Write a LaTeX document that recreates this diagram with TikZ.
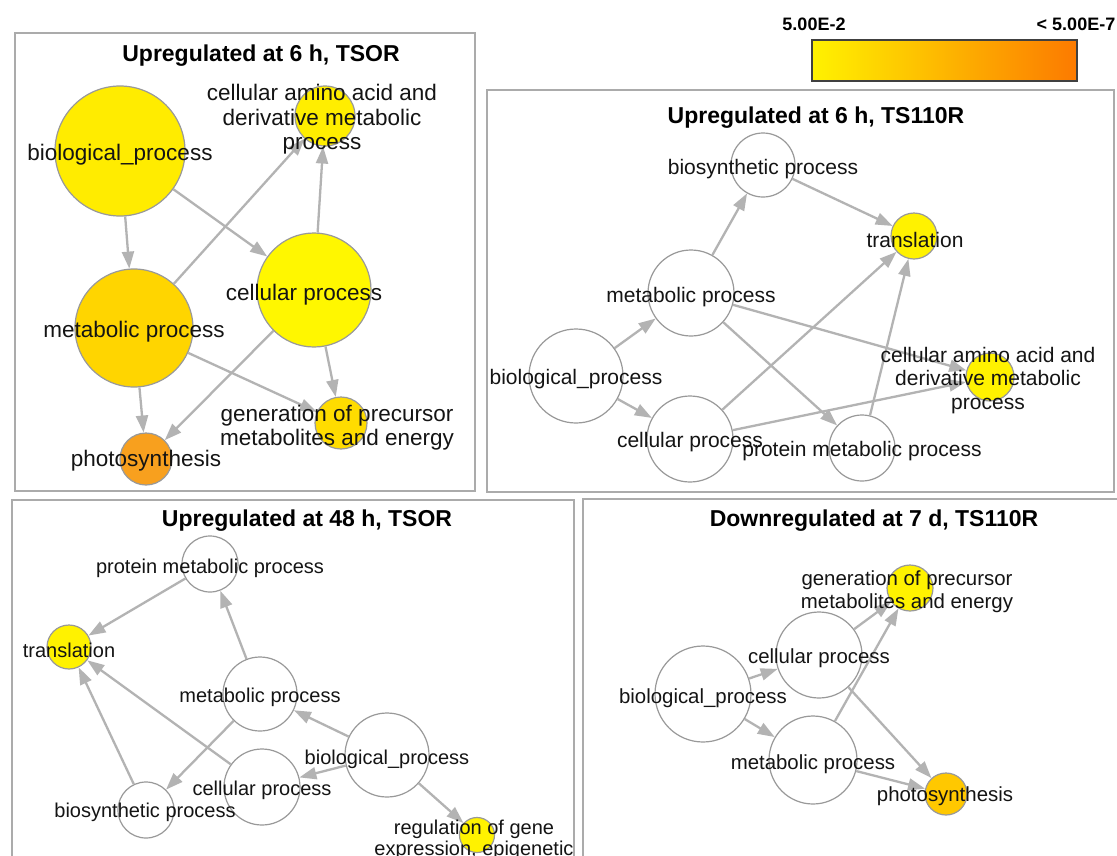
\documentclass[tikz,border=0pt]{standalone}
\usepackage{fontspec}
\setmainfont{Liberation Sans}
\usetikzlibrary{arrows.meta}
\definecolor{edgegray}{HTML}{B3B3B3}
\definecolor{nodeborder}{HTML}{999999}
\definecolor{boxgray}{HTML}{ABABAB}
\definecolor{yA}{HTML}{FFF200}
\definecolor{yBio}{HTML}{FFEC00}
\definecolor{yCP}{HTML}{FFF700}
\definecolor{yCAA}{HTML}{FFEE00}
\definecolor{gMet}{HTML}{FFD500}
\definecolor{gGen}{HTML}{FFDC00}
\definecolor{oPhoto}{HTML}{F8A01E}
\definecolor{gPhoto}{HTML}{FFC800}
\definecolor{legL}{HTML}{FFF200}
\definecolor{legR}{HTML}{FC7A00}
\tikzset{
  gonode/.style={circle, draw=nodeborder, line width=1.2pt, fill=white, inner sep=0pt},
  conn/.style={draw=edgegray, line width=2.3pt, -{Triangle[length=17pt,width=12pt]}},
  lab/.style={inner sep=0pt, align=center, text=black!92, yshift=-2.5pt},
  labA/.style={lab, font=\fontsize{22.5}{24.5}\selectfont},
  labB/.style={lab, font=\fontsize{21}{23.5}\selectfont},
  labC/.style={lab, font=\fontsize{20}{21}\selectfont},
  labD/.style={lab, font=\fontsize{20.4}{23}\selectfont},
  panel/.style={draw=boxgray, line width=1.8pt},
  ttl/.style={inner sep=0pt, yshift=-3pt, font=\bfseries\fontsize{23}{27}\selectfont},
  legtxt/.style={inner sep=0pt, yshift=-1.5pt, font=\bfseries\fontsize{18}{20}\selectfont},
}
\begin{document}
\begin{tikzpicture}[x=1pt,y=-1pt]
\useasboundingbox[fill=white] (0,0) rectangle (1117,855);

% legend
\node[legtxt] (legmin) at (814,23) {5.00E-2};
\node[legtxt] (legmax) at (1076,23) {< 5.00E-7};
\node[draw=black!75, line width=1.3pt, minimum width=265pt, minimum height=41pt, inner sep=0pt,
      left color=legL, right color=legR] (legbar) at (944.5,60.5) {};

% ---------- panel 1 ----------
\draw[panel] (15,33) rectangle (475,491);
\node[ttl] (t1) at (261,53) {Upregulated at 6 h, TSOR};
\node[gonode, minimum size=130pt, fill=yBio] (p1bio) at (120,151) {};
\node[gonode, minimum size=60pt, fill=yCAA] (p1caa) at (325,116) {};
\node[gonode, minimum size=114pt, fill=yCP] (p1cp) at (314,290) {};
\node[gonode, minimum size=118pt, fill=gMet] (p1met) at (134,328) {};
\node[gonode, minimum size=52pt, fill=gGen] (p1gen) at (341,423) {};
\node[gonode, minimum size=52pt, fill=oPhoto] (p1ph) at (146,459) {};
\draw[conn] (p1bio) -- (p1met);
\draw[conn] (p1bio) -- (p1cp);
\draw[conn] (p1met) -- (p1caa);
\draw[conn] (p1cp) -- (p1caa);
\draw[conn] (p1met) -- (p1gen);
\draw[conn] (p1cp) -- (p1gen);
\draw[conn] (p1met) -- (p1ph);
\draw[conn] (p1cp) -- (p1ph);
\node[labA] (l1bio) at (120,152) {biological\_process};
\node[labA] (l1caa) at (322,117) {cellular amino acid and\\derivative metabolic\\process};
\node[labA] (l1cp) at (304,292) {cellular process};
\node[labA] (l1met) at (134,329) {metabolic process};
\node[labA] (l1gen) at (337,425) {generation of precursor\\metabolites and energy};
\node[labA] (l1ph) at (146,458) {photosynthesis};

% ---------- panel 2 ----------
\draw[panel] (487,90) rectangle (1114,492);
\node[ttl] (t2) at (816,115) {Upregulated at 6 h, TS110R};
\node[gonode, minimum size=64pt] (p2bs) at (763,165) {};
\node[gonode, minimum size=86pt] (p2met) at (691,293) {};
\node[gonode, minimum size=94pt] (p2bio) at (576,376) {};
\node[gonode, minimum size=86pt] (p2cp) at (690,439) {};
\node[gonode, minimum size=46pt, fill=yA] (p2tr) at (914,236) {};
\node[gonode, minimum size=48pt, fill=yA] (p2caa) at (990,377) {};
\node[gonode, minimum size=66pt] (p2pm) at (862,448) {};
\draw[conn] (p2bio) -- (p2met);
\draw[conn] (p2bio) -- (p2cp);
\draw[conn] (p2met) -- (p2bs);
\draw[conn] (p2bs) -- (p2tr);
\draw[conn] (p2cp) -- (p2tr);
\draw[conn] (p2met) -- (p2caa);
\draw[conn] (p2met) -- (p2pm);
\draw[conn] (p2cp) -- (p2caa);
\draw[conn] (p2pm) -- (p2tr);
\node[labB] (l2bs) at (763,167) {biosynthetic process};
\node[labB] (l2met) at (691,295) {metabolic process};
\node[labB] (l2bio) at (576,377) {biological\_process};
\node[labB] (l2cp) at (690,440) {cellular process};
\node[labB] (l2tr) at (915,237) {translation};
\node[labB] (l2caa) at (988,378) {cellular amino acid and\\derivative metabolic\\process};
\node[labB] (l2pm) at (862,449) {protein metabolic process};

% ---------- panel 3 ----------
\draw[panel] (12,862) -- (12,500) -- (574,500) -- (574,862);
\node[ttl] (t3) at (307,518) {Upregulated at 48 h, TSOR};
\node[gonode, minimum size=56pt] (p3pm) at (210,564) {};
\node[gonode, minimum size=44pt, fill=yA] (p3tr) at (69,647) {};
\node[gonode, minimum size=74pt] (p3met) at (260,694) {};
\node[gonode, minimum size=76pt] (p3cp) at (262,787) {};
\node[gonode, minimum size=56pt] (p3bs) at (146,810) {};
\node[gonode, minimum size=84pt] (p3bio) at (387,755) {};
\node[gonode, minimum size=35pt, fill=yA] (p3reg) at (477,835) {};
\draw[conn] (p3pm) -- (p3tr);
\draw[conn] (p3met) -- (p3pm);
\draw[conn] (p3bs) -- (p3tr);
\draw[conn] (p3cp) -- (p3tr);
\draw[conn] (p3met) -- (p3bs);
\draw[conn] (p3bio) -- (p3met);
\draw[conn] (p3bio) -- (p3cp);
\draw[conn] (p3bio) -- (p3reg);
\node[labC] (l3pm) at (210,566) {protein metabolic process};
\node[labC] (l3tr) at (69,648) {translation};
\node[labC] (l3met) at (260,695) {metabolic process};
\node[labC] (l3cp) at (262,788) {cellular process};
\node[labC] (l3bs) at (145,810) {biosynthetic process};
\node[labC] (l3bio) at (387,757) {biological\_process};
\node[labC] (l3reg) at (474,837) {regulation of gene\\expression, epigenetic};

% ---------- panel 4 ----------
\draw[panel] (583,862) -- (583,499) -- (1122,499);
\node[ttl] (t4) at (874,518) {Downregulated at 7 d, TS110R};
\node[gonode, minimum size=46pt, fill=yA] (p4gen) at (910,588) {};
\node[gonode, minimum size=86pt] (p4cp) at (819,655) {};
\node[gonode, minimum size=96pt] (p4bio) at (703,694) {};
\node[gonode, minimum size=88pt] (p4met) at (813,760) {};
\node[gonode, minimum size=42pt, fill=gPhoto] (p4ph) at (946,794) {};
\draw[conn] (p4bio) -- (p4cp);
\draw[conn] (p4bio) -- (p4met);
\draw[conn] (p4cp) -- (p4gen);
\draw[conn] (p4met) -- (p4gen);
\draw[conn] (p4cp) -- (p4ph);
\draw[conn] (p4met) -- (p4ph);
\node[labD] (l4gen) at (907,589) {generation of precursor\\metabolites and energy};
\node[labD] (l4cp) at (819,656) {cellular process};
\node[labD] (l4bio) at (703,696) {biological\_process};
\node[labD] (l4met) at (813,762) {metabolic process};
\node[labD] (l4ph) at (945,794) {photosynthesis};
\end{tikzpicture}
\end{document}
